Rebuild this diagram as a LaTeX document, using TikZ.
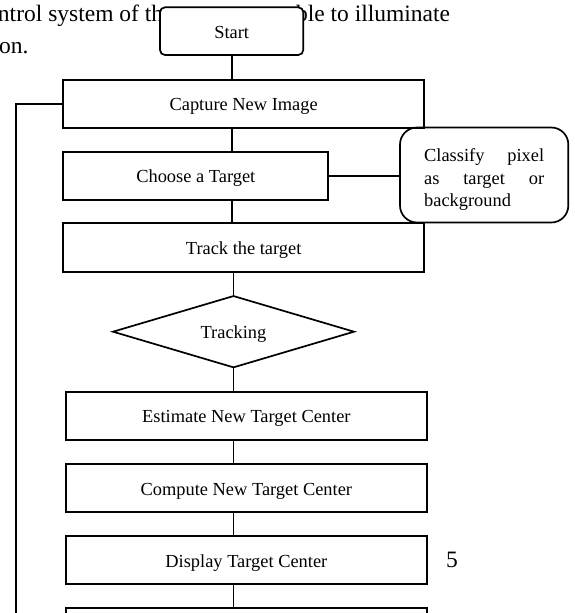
\documentclass[tikz,border=0pt]{standalone}
\usepackage{fontspec}
\setmainfont{Liberation Serif}
\usetikzlibrary{shapes.geometric}
\newcommand\flowfont{\fontsize{18.4}{22.5}\selectfont}
\newcommand\bodyfont{\fontsize{23.5}{28}\selectfont}
\begin{document}
\begin{tikzpicture}[x=1pt,y=-1pt,
  every node/.style={inner sep=0pt, outer sep=0pt},
  link/.style={draw, line width=1.7pt},
  stepbox/.style={draw, line width=1.7pt, fill=white, font=\flowfont,
    text height=16pt, text depth=2pt,
    minimum width=#1, minimum height=48pt},
  stepbox/.default=360.7pt,
  startbox/.style={stepbox=143.3pt, rounded corners=5pt, minimum height=47.7pt},
  notebox/.style={draw, line width=1.7pt, rounded corners=17pt,
    minimum width=168.3pt, minimum height=95pt},
  notetext/.style={font=\flowfont, align=left},
  decision/.style={draw, diamond, aspect=3.4, line width=1.7pt, fill=white,
    font=\flowfont, text height=16pt, text depth=2pt,
    minimum width=241pt, minimum height=71.3pt},
  bodytext/.style={font=\bodyfont, anchor=base west}
]
\useasboundingbox (0,0) rectangle (574,613);
\clip (0,0) rectangle (574,613);
\fill[white] (0,0) rectangle (574,613);

% running text of the page behind the chart
\node[bodytext] (lineA) at (-2,21) {ntrol system of th};
\node[bodytext] (lineB) at (296,21) {ble to illuminate};
\node[bodytext] (lineC) at (-1,53) {on.};
\node[bodytext] (pagenum) at (446,567) {5};

% flow chart
\node[startbox] (start) at (231.65,31.15) {Start};
\node[stepbox, minimum height=47.7pt] (capture) at (243.65,103.85) {Capture New Image};
\node[stepbox=265pt, minimum height=48.3pt] (choose) at (195.8,175.85) {Choose a Target};
\node[notebox] (classify) at (484.15,175) {};
\node[notetext] (classifytext) at ([yshift=-5pt]classify.center)
  {\makebox[120pt][s]{Classify pixel}\\\makebox[120pt][s]{as target or}\\background};
\node[stepbox, minimum height=48.4pt] (track) at (243.65,247.5) {Track the target};
\node[decision] (tracking) at (233.5,331.7) {Tracking};
\node[stepbox] (estimate) at (246.35,415.85) {Estimate New Target Center};
\node[stepbox] (compute) at (246.35,488) {Compute New Target Center};
\node[stepbox] (display) at (246.35,560) {Display Target Center};
\node[stepbox] (next) at (246.35,632) {};

% connectors
\draw[link] (start.south) -- (start.south |- capture.north);
\draw[link] (start.south |- capture.south) -- (start.south |- choose.north);
\draw[link] (start.south |- choose.south) -- (start.south |- track.north);
\draw[link] (choose.east) -- (choose.east -| classify.west);
\draw[link] (tracking.north |- track.south) -- (tracking.north);
\draw[link] (tracking.south) -- (tracking.south |- estimate.north);
\draw[link] (tracking.south |- estimate.south) -- (tracking.south |- compute.north);
\draw[link] (tracking.south |- compute.south) -- (tracking.south |- display.north);
\draw[link] (tracking.south |- display.south) -- (tracking.south |- next.north);

% loop back to the capture step
\coordinate (loopend) at (15.7,620);
\draw[link] (capture.west) -| (loopend);
\end{tikzpicture}
\end{document}
